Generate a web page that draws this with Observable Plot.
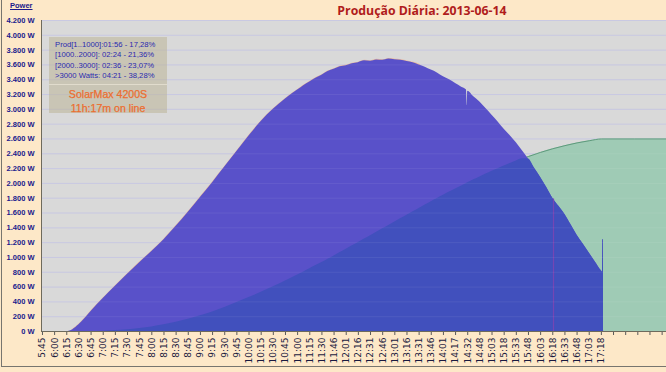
<!DOCTYPE html>
<html><head><meta charset="utf-8">
<script src="https://cdn.jsdelivr.net/npm/d3@7"></script>
<script src="https://cdn.jsdelivr.net/npm/@observablehq/plot@0.6"></script>
<style>
html,body{margin:0;padding:0;background:#fde8c8;}
#wrap{position:relative;width:666px;height:372px;overflow:hidden;background:#fde8c8;}
#wrap svg{position:absolute;left:0;top:0;}
#title{position:absolute;left:0;width:666px;top:2px;padding-left:178px;box-sizing:border-box;text-align:center;font:700 12.3px "Open Sans",sans-serif;color:#b01c1c;}
#power{position:absolute;left:10px;top:1px;font:700 7.5px "Liberation Sans",sans-serif;color:#1a1a8c;text-decoration:underline;}
#box{position:absolute;left:49px;top:37px;width:118px;height:76px;background:rgba(188,180,152,0.55);}
#stats{position:absolute;left:6px;top:3px;font:7.7px "Liberation Sans",sans-serif;color:#2a2ab0;line-height:10.4px;white-space:nowrap;}
#sep{position:absolute;left:0;top:47px;width:118px;height:1px;background:rgba(235,230,215,0.7);}
#inv{position:absolute;left:0;top:50px;width:118px;text-align:center;font:10.6px "Liberation Sans",sans-serif;color:#ec6e30;line-height:14px;-webkit-text-stroke:0.25px #ec6e30;}
#bl{position:absolute;left:1px;top:0;width:1px;height:367px;background:#77756f;}
#bb{position:absolute;left:1px;top:366px;width:665px;height:1px;background:#77756f;}
</style></head><body>
<div id="wrap">
  <div id="chart"></div>
  <div id="title"></div>
  <div id="power"></div>
  <div id="box"><div id="stats"></div><div id="sep"></div><div id="inv"></div></div>
  <div id="bl"></div><div id="bb"></div>
</div>
<script>
const titleText = "Produção Diária: 2013-06-14";
const yAxisTitle = "Power";
const statsLines = ["Prod[1..1000]:01:56 - 17,28%","[1000..2000]: 02:24 - 21,36%","[2000..3000]: 02:36 - 23,07%",">3000 Watts: 04:21 - 38,28%"];
const inverterLines = ["SolarMax 4200S","11h:17m on line"];

const timeLabels = ["5:45","6:00","6:15","6:30","6:45","7:00","7:15","7:30","7:45","8:00","8:15","8:30","8:45","9:00","9:15","9:30","9:45","10:00","10:15","10:30","10:45","11:00","11:15","11:30","11:46","12:01","12:16","12:31","12:46","13:01","13:16","13:31","13:46","14:01","14:17","14:32","14:48","15:03","15:18","15:33","15:48","16:03","16:18","16:33","16:48","17:03","17:18"];
const tickSlots = [0,1,2,3,4,5,6,7,8,9,10,11,12,13,14,15,16,17,18,19,20,21,22,23,24,25,26,27,28,29,30,31,32,33,34,35,36,37,38,39,40,41,42,43,44,45,46,47,48,49,50,51];
const yTicks = [0,200,400,600,800,1000,1200,1400,1600,1800,2000,2200,2400,2600,2800,3000,3200,3400,3600,3800,4000,4200];

// instantaneous power (W), x in tick slots
const powerX = [0,1,2,2.5,3,3.5,4,5,6,7,8,9,10,11,12,13,14,15,16,17,18,19,20,21,21.5,22,22.5,23,23.5,24,24.5,25,25.5,26,26.5,27,27.5,28,28.5,29,29.5,30,30.5,31,31.5,32,32.5,33,33.5,34,34.5,34.9,34.95,35,35.5,36,36.5,37,37.5,38,38.5,39,39.5,40,40.5,41,41.5,42,42.5,43,43.5,44,44.5,45,45.5,46,46.1,46.12,46.17,46.19,51.4];
const powerW = [0,0,0,25,90,175,270,445,610,772,930,1080,1240,1420,1610,1810,2010,2220,2430,2640,2835,3000,3140,3260,3320,3370,3420,3460,3510,3540,3575,3590,3615,3630,3655,3650,3668,3662,3680,3670,3662,3645,3628,3600,3570,3530,3492,3440,3400,3350,3300,3262,3050,3245,3170,3100,3010,2920,2830,2730,2645,2550,2440,2330,2205,2080,1945,1800,1690,1580,1440,1300,1180,1060,940,820,801,1238,1238,0,0];

// accumulated energy curve (scaled, W axis)
const energyX = [0,1,2,3,4,5,6,7,8,9,10,11,12,13,14,15,16,17,18,19,20,21,22,23,24,25,26,27,28,29,30,31,32,33,34,35,36,37,38,39,40,41,42,43,44,45,46,51.4];
const energyW = [0,0,0,0,1,5,12,24,40,62,90,124,164,212,265,325,390,458,529,604,682,763,847,933,1021,1111,1202,1294,1386,1479,1571,1662,1752,1840,1925,2008,2088,2164,2235,2302,2363,2419,2468,2510,2547,2576,2600,2600];

const glitchX = [42.06];
const glitchW = [1790];

const xMin = -0.08, xMax = 51.36;
const pIdx = d3.range(powerX.length);
const eIdx = d3.range(energyX.length);
const eInterp = d3.scaleLinear().domain(energyX).range(energyW).clamp(true);
const fmtW = v => (v >= 1000 ? Math.floor(v/1000) + "." + String(v % 1000).padStart(3, "0") : String(v)) + " W";

const chart = Plot.plot({
  width: 666, height: 372,
  marginLeft: 41, marginRight: 0, marginTop: 20, marginBottom: 41,
  style: {background: "transparent", overflow: "visible"},
  x: {domain: [xMin, xMax], axis: null},
  y: {domain: [0, 4200], axis: null},
  marks: [
    Plot.frame({fill: "#d9d9d9", stroke: null}),
    Plot.gridY(yTicks, {stroke: "#c5c5e0", strokeOpacity: 1}),
    Plot.areaY(eIdx, {x: i => energyX[i], y: i => energyW[i], fill: "#9fcbb5", curve: "monotone-x"}),
    Plot.lineY(eIdx, {x: i => energyX[i], y: i => energyW[i], stroke: "#5e9a7c", strokeWidth: 1, curve: "monotone-x"}),
    Plot.lineY(pIdx.filter(i => powerX[i] >= 2.3 && powerX[i] <= 31), {x: i => powerX[i], y: i => powerW[i], stroke: "#e8b89e", strokeWidth: 2.2, curve: "monotone-x"}),
    Plot.areaY(pIdx, {x: i => powerX[i], y: i => powerW[i], fill: "#5951c9", curve: "monotone-x"}),
    Plot.areaY(pIdx, {x: i => powerX[i], y: i => Math.min(powerW[i], eInterp(powerX[i])), fill: "#4150bd", curve: "monotone-x"}),
    Plot.ruleX(d3.range(glitchX.length), {x: i => glitchX[i], y1: 0, y2: i => glitchW[i], stroke: "#7446b4", strokeWidth: 1.2}),
    Plot.gridY(yTicks, {stroke: "#ffffff", strokeOpacity: 0.07}),
    Plot.axisY(yTicks, {tickSize: 0, tickPadding: 7, tickFormat: fmtW, fill: "#1a1a8c", fontSize: 7.5, fontWeight: "bold", fontFamily: "Liberation Sans"}),
    Plot.axisX(tickSlots, {tickSize: 4, tickPadding: 2, tickRotate: -90, tickFormat: i => timeLabels[i] ?? "", fill: "#1a1a40", stroke: "#5a5a5a", fontSize: 9, fontFamily: "DejaVu Sans"}),
    Plot.ruleY([0], {stroke: "#6e6a5c"}),
    Plot.ruleX([xMin], {stroke: "#6e6a5c"})
  ]
});
document.getElementById("chart").appendChild(chart);
document.getElementById("title").textContent = titleText;
document.getElementById("power").textContent = yAxisTitle;
document.getElementById("stats").innerHTML = statsLines.map(s => s.replace(/&/g,"&amp;").replace(/</g,"&lt;").replace(/>/g,"&gt;")).join("<br>");
document.getElementById("inv").innerHTML = inverterLines.join("<br>");
</script>
</body></html>
